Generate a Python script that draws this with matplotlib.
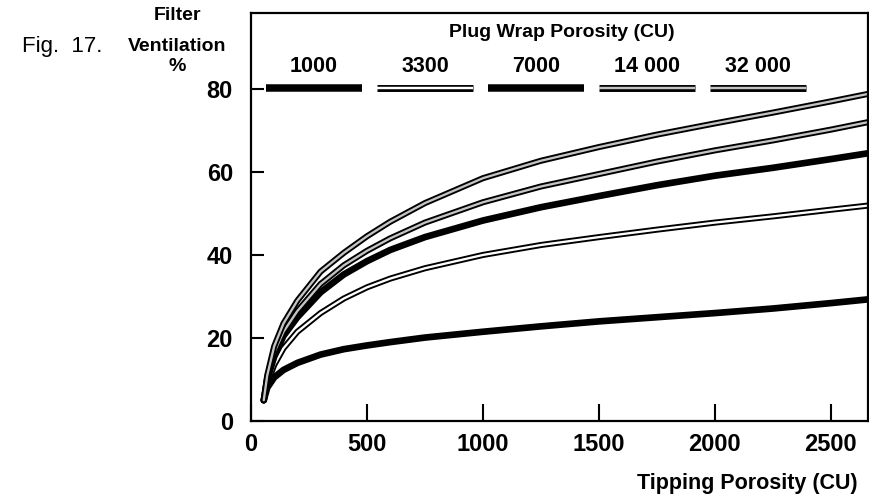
import numpy as np
import matplotlib
matplotlib.use('Agg')
from matplotlib import pyplot as plt

plt.rcParams['font.family'] = ['Liberation Sans', 'DejaVu Sans']

# 数据
tipping = [55, 70, 100, 140, 200, 300, 400, 500, 600, 750, 1000, 1250, 1500, 1750, 2000, 2250, 2500, 2660]
vent_1000 = [5, 8, 10.5, 12.3, 14, 16, 17.3, 18.2, 19, 20.1, 21.5, 22.8, 24, 25, 26, 27.1, 28.4, 29.3]
vent_3300 = [5, 9, 13.5, 17.5, 21.5, 26, 29.5, 32.2, 34.3, 36.8, 40, 42.4, 44.3, 46.1, 47.8, 49.3, 50.9, 51.9]
vent_7000 = [5, 10, 15.5, 20.5, 25, 31, 35.3, 38.5, 41.2, 44.3, 48.3, 51.5, 54.2, 56.8, 59.1, 61, 63.1, 64.5]
vent_14000 = [5, 10.5, 16.5, 21.5, 26.5, 33, 37.5, 41, 44, 47.8, 52.7, 56.5, 59.5, 62.5, 65.2, 67.6, 70.2, 72]
vent_32000 = [5, 11, 18, 23.5, 29, 36, 40.5, 44.5, 48, 52.5, 58.5, 62.7, 66, 69, 71.7, 74.3, 77, 78.8]
plug_labels = ['1000', '3300', '7000', '14 000', '32 000']
x_ticks = [0, 500, 1000, 1500, 2000, 2500]
y_ticks = [0, 20, 40, 60, 80]

series = [vent_1000, vent_3300, vent_7000, vent_14000, vent_32000]
# 线型：外层黑色宽度，内层颜色（None 表示实心黑线）
styles = [(4.8, None), (4.4, 'white'), (4.8, None), (4.4, '#c4c4c4'), (4.4, '#c4c4c4')]

fig = plt.figure(figsize=(8.7, 4.94), dpi=100)
ax = fig.add_axes([0.2885, 0.1478, 0.7092, 0.8259])

for vals, (lw, inner) in zip(series, styles):
    ax.plot(tipping, vals, color='black', lw=lw, solid_capstyle='round', solid_joinstyle='round')
    if inner is not None:
        ax.plot(tipping, vals, color=inner, lw=lw * 0.38, solid_capstyle='round',
                solid_joinstyle='round')

# 图例（手动画在坐标轴上方）
for i, ((lw, inner), lab) in enumerate(zip(styles, plug_labels)):
    x0 = 0.024 + i * 0.18
    xs = [x0, x0 + 0.156]
    ax.plot(xs, [0.816, 0.816], transform=ax.transAxes, color='black', lw=lw + 0.6,
            solid_capstyle='butt')
    if inner is not None:
        ax.plot(xs, [0.816, 0.816], transform=ax.transAxes, color=inner, lw=(lw + 0.6) * 0.35,
                solid_capstyle='butt')
    ax.text(x0 + 0.078, 0.868, lab, transform=ax.transAxes, ha='center', va='center',
            fontsize=15.5, fontweight='bold')
ax.text(0.504, 0.953, 'Plug Wrap Porosity (CU)', transform=ax.transAxes, ha='center',
        va='center', fontsize=14, fontweight='bold')

ax.set_xlim(0, 2660)
ax.set_ylim(0, 98.3)
ax.set_xticks(x_ticks)
ax.set_yticks(y_ticks)
ax.tick_params(axis='x', direction='in', length=12, width=1.5, pad=9, labelsize=17)
ax.tick_params(axis='y', direction='in', length=9, width=1.5, pad=13, labelsize=17)
for lab in ax.get_xticklabels() + ax.get_yticklabels():
    lab.set_fontweight('bold')
for sp in ax.spines.values():
    sp.set_linewidth(1.6)

fig.text(0.986, 0.022, 'Tipping Porosity (CU)', ha='right', va='center', fontsize=15.5,
         fontweight='bold')
fig.text(0.204, 0.968, 'Filter', ha='center', va='center', fontsize=14, fontweight='bold')
fig.text(0.204, 0.905, 'Ventilation', ha='center', va='center', fontsize=14, fontweight='bold')
fig.text(0.204, 0.866, '%', ha='center', va='center', fontsize=14, fontweight='bold')
fig.text(0.025, 0.905, 'Fig.  17.', ha='left', va='center', fontsize=16)

plt.savefig('out.png', dpi=100)
